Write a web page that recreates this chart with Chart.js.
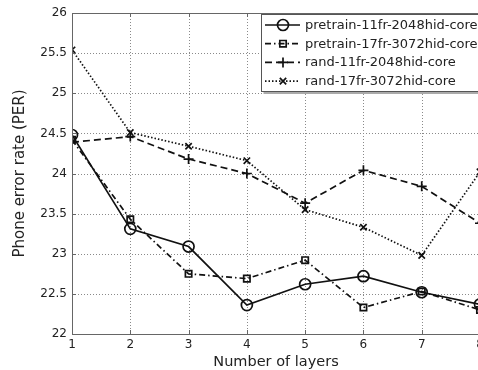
<!DOCTYPE html>
<html>
<head>
<meta charset="utf-8">
<script src="https://cdn.jsdelivr.net/npm/chart.js@4.4.1/dist/chart.umd.min.js"></script>
<style>
html,body{margin:0;padding:0;background:#fff;overflow:hidden;}
#wrap{position:relative;width:500px;height:370px;}
</style>
</head>
<body>
<div id="wrap"><canvas id="c" width="500" height="370"></canvas></div>
<script>
const layers = [1, 2, 3, 4, 5, 6, 7, 8];
const seriesNames = [
  "pretrain-11fr-2048hid-core",
  "pretrain-17fr-3072hid-core",
  "rand-11fr-2048hid-core",
  "rand-17fr-3072hid-core"
];
const pretrain11 = [24.48, 23.31, 23.09, 22.36, 22.62, 22.72, 22.52, 22.37];
const pretrain17 = [24.42, 23.43, 22.75, 22.69, 22.92, 22.33, 22.53, 22.30];
const rand11     = [24.39, 24.46, 24.18, 24.00, 23.63, 24.04, 23.84, 23.38];
const rand17     = [25.54, 24.51, 24.34, 24.16, 23.55, 23.33, 22.98, 24.02];
const yTicks = [22, 22.5, 23, 23.5, 24, 24.5, 25, 25.5, 26];
const xTitle = "Number of layers";
const yTitle = "Phone error rate (PER)";

const FONT = "'DejaVu Sans', sans-serif";
const styles = [
  {dash: [], pointStyle: 'circle', radius: 5.5},
  {dash: [6, 3, 1.5, 3], pointStyle: 'rect', radius: 4.5},
  {dash: [7, 4], pointStyle: 'cross', radius: 5},
  {dash: [1.5, 2], pointStyle: 'crossRot', radius: 4.5}
];
const values = [pretrain11, pretrain17, rand11, rand17];
const datasets = values.map((v, i) => ({
  label: seriesNames[i],
  data: layers.map((x, j) => ({x: x, y: v[j]})),
  borderColor: '#111',
  backgroundColor: 'rgba(0,0,0,0)',
  borderWidth: 1.7,
  borderDash: styles[i].dash,
  pointStyle: styles[i].pointStyle,
  pointRadius: styles[i].radius,
  pointBorderWidth: 1.7,
  pointBorderColor: '#111',
  pointBackgroundColor: 'rgba(0,0,0,0)',
  tension: 0
}));

const gridPlugin = {
  id: 'dottedGrid',
  beforeDatasetsDraw(chart) {
    const ctx = chart.ctx, a = chart.chartArea;
    const xs = chart.scales.x, ys = chart.scales.y;
    ctx.save();
    ctx.strokeStyle = '#8a8a8a';
    ctx.lineWidth = 1;
    ctx.setLineDash([1, 2]);
    ctx.beginPath();
    layers.forEach(v => {
      const px = Math.round(xs.getPixelForValue(v)) + 0.5;
      ctx.moveTo(px, a.top); ctx.lineTo(px, a.bottom);
    });
    yTicks.forEach(v => {
      const py = Math.round(ys.getPixelForValue(v)) + 0.5;
      ctx.moveTo(a.left, py); ctx.lineTo(a.right, py);
    });
    ctx.stroke();
    ctx.restore();
  }
};

const frame = {
  id: 'frame',
  afterDraw(chart) {
    const ctx = chart.ctx, a = chart.chartArea;
    const xs = chart.scales.x, ys = chart.scales.y;
    ctx.save();
    ctx.strokeStyle = '#666';
    ctx.lineWidth = 1;
    ctx.setLineDash([]);
    ctx.beginPath();
    ctx.moveTo(a.left, a.top + 0.5); ctx.lineTo(a.right, a.top + 0.5);
    ctx.moveTo(a.right - 0.5, a.top); ctx.lineTo(a.right - 0.5, a.bottom);
    ctx.moveTo(a.left + 0.5, a.top); ctx.lineTo(a.left + 0.5, a.bottom);
    ctx.moveTo(a.left, a.bottom + 0.5); ctx.lineTo(a.right, a.bottom + 0.5);
    layers.forEach(v => {
      const px = Math.round(xs.getPixelForValue(v)) + 0.5;
      ctx.moveTo(px, a.bottom); ctx.lineTo(px, a.bottom - 4);
      ctx.moveTo(px, a.top); ctx.lineTo(px, a.top + 4);
    });
    yTicks.forEach(v => {
      const py = Math.round(ys.getPixelForValue(v)) + 0.5;
      ctx.moveTo(a.left, py); ctx.lineTo(a.left + 4, py);
    });
    ctx.stroke();

    // legend
    const bx = 261.5, by = 14.5, bw = 260, bh = 77;
    ctx.fillStyle = '#fff';
    ctx.fillRect(bx, by, bw, bh);
    ctx.strokeStyle = '#aaa';
    ctx.lineWidth = 2;
    ctx.beginPath();
    ctx.moveTo(bx + 2, by + bh + 1.5); ctx.lineTo(bx + bw, by + bh + 1.5);
    ctx.stroke();
    ctx.strokeStyle = '#555';
    ctx.lineWidth = 1;
    ctx.strokeRect(bx, by, bw, bh);
    ctx.font = '13px ' + FONT;
    ctx.textBaseline = 'middle';
    ctx.textAlign = 'left';
    chart.data.datasets.forEach((ds, i) => {
      const y = 25 + i * 18.7;
      ctx.strokeStyle = '#111';
      ctx.lineWidth = 1.7;
      ctx.setLineDash(ds.borderDash);
      ctx.beginPath();
      ctx.moveTo(265, y); ctx.lineTo(300, y);
      ctx.stroke();
      ctx.setLineDash([]);
      ctx.fillStyle = 'rgba(0,0,0,0)';
      Chart.helpers.drawPoint(ctx, {pointStyle: ds.pointStyle, radius: ds.pointRadius, borderWidth: 1.7}, 283, y);
      ctx.fillStyle = '#222';
      ctx.fillText(ds.label, 305, y + 0.5);
    });
    ctx.restore();
  }
};

new Chart(document.getElementById('c'), {
  type: 'line',
  data: {datasets: datasets},
  options: {
    responsive: false,
    animation: false,
    layout: {padding: {left: 0, right: 20, top: 13, bottom: 0}},
    plugins: {legend: {display: false}, tooltip: {enabled: false}},
    scales: {
      x: {
        type: 'linear', min: 1, max: 8,
        afterFit(s) { s.height = 36; },
        ticks: {stepSize: 1, color: '#222', padding: 4, font: {family: FONT, size: 12}},
        grid: {display: false, drawTicks: false},
        border: {display: false},
        title: {display: true, text: xTitle, color: '#222', font: {family: FONT, size: 14.5}, padding: {top: 0, bottom: -1}}
      },
      y: {
        type: 'linear', min: 22, max: 26,
        afterFit(s) { s.width = 72; },
        afterBuildTicks(s) { s.ticks = yTicks.map(v => ({value: v})); },
        ticks: {color: '#222', padding: 5, font: {family: FONT, size: 12},
                callback: v => String(v)},
        grid: {display: false, drawTicks: false},
        border: {display: false},
        title: {display: true, text: yTitle, color: '#222', font: {family: FONT, size: 15}, padding: {top: 11, bottom: 0}}
      }
    }
  },
  plugins: [gridPlugin, frame]
});
</script>
</body>
</html>
